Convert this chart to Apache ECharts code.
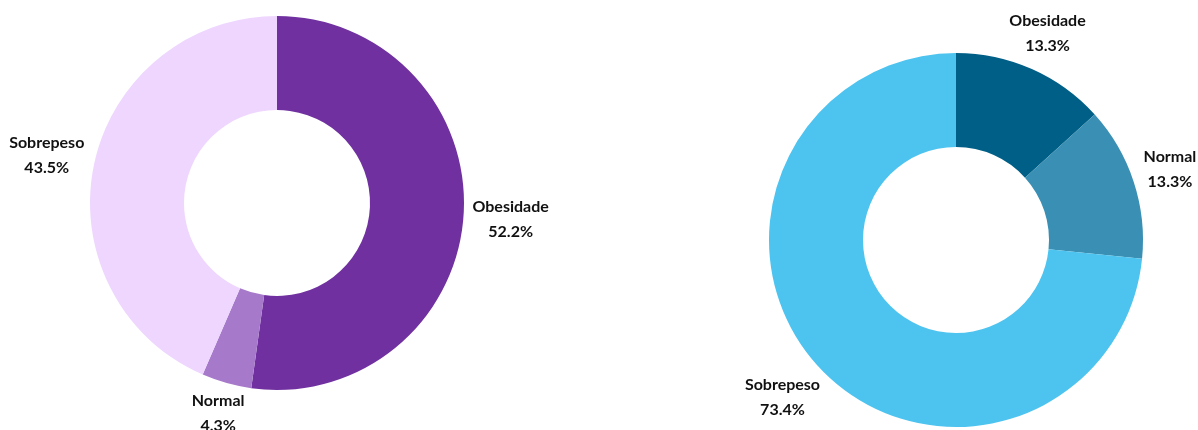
<!DOCTYPE html>
<html>
<head>
<meta charset="utf-8">
<script src="https://cdn.jsdelivr.net/npm/echarts@6/dist/echarts.min.js"></script>
<style>
  html, body { margin: 0; padding: 0; background: #ffffff; }
  #chart { width: 1198px; height: 430px; }
</style>
</head>
<body>
<div id="chart"></div>
<script>
// Weight status distribution, two groups
const categories = ['Obesidade', 'Normal', 'Sobrepeso'];
const leftValues = [52.2, 4.3, 43.5];
const rightValues = [13.3, 13.3, 73.4];
const leftColors = ['#7030A0', '#A679CA', '#EED6FE'];
const rightColors = ['#005F87', '#3A8FB4', '#4DC3EF'];

const chart = echarts.init(document.getElementById('chart'), null, { renderer: 'canvas' });

function toData(values, colors) {
  return categories.map((name, i) => ({
    name: name,
    value: values[i],
    itemStyle: { color: colors[i] }
  }));
}

// Places each label beyond the slice edge along the slice's mid direction
function radialLabelLayout(params) {
  const pts = params.labelLinePoints;
  if (!pts || pts.length < 2) return {};
  const dx = pts[1][0] - pts[0][0];
  const dy = pts[1][1] - pts[0][1];
  const len = Math.sqrt(dx * dx + dy * dy) || 1;
  const ux = dx / len, uy = dy / len;
  const w = params.labelRect.width, h = params.labelRect.height;
  const gap = 8;
  const d = gap + Math.abs(ux) * w / 2 + Math.abs(uy) * (h / 2 - 4);
  return {
    x: pts[0][0] + ux * d,
    y: pts[0][1] + uy * d,
    align: 'center',
    verticalAlign: 'middle'
  };
}

const labelStyle = {
  show: true,
  position: 'outside',
  formatter: p => '{t|' + p.name + '}\n{v|' + p.value.toFixed(1) + '%}',
  rich: {
    t: { fontFamily: 'Lato', fontWeight: 'bold', fontSize: 16, color: '#111111', lineHeight: 25, align: 'center' },
    v: { fontFamily: 'Lato', fontWeight: 'bold', fontSize: 16, color: '#111111', lineHeight: 25, align: 'center' }
  }
};

function pieSeries(values, colors, center) {
  return {
    type: 'pie',
    center: center,
    radius: [93, 187],
    startAngle: 90,
    clockwise: true,
    avoidLabelOverlap: false,
    silent: true,
    data: toData(values, colors),
    label: labelStyle,
    labelLine: { show: true, length: 10, length2: 0, lineStyle: { opacity: 0 } },
    labelLayout: radialLabelLayout,
    itemStyle: { borderWidth: 0 },
    emphasis: { disabled: true }
  };
}

chart.setOption({
  backgroundColor: '#ffffff',
  animation: false,
  series: [
    pieSeries(leftValues, leftColors, [277, 203]),
    pieSeries(rightValues, rightColors, [956, 240])
  ]
});
</script>
</body>
</html>
